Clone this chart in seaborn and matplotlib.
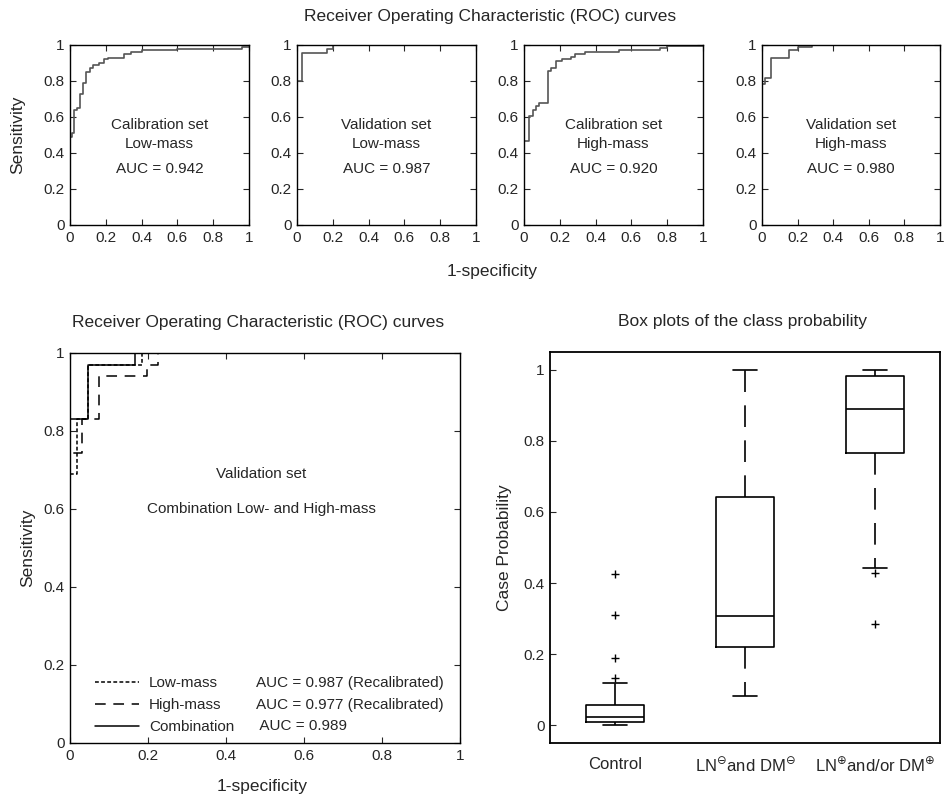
import matplotlib
matplotlib.use("Agg")
import matplotlib.pyplot as plt
from matplotlib.ticker import FuncFormatter
import seaborn as sns

# -------------------------------
# Data
# -------------------------------
# top row: ROC curves (1-specificity, sensitivity), step points
cal_low_fpr = [0, 0.01, 0.02, 0.04, 0.055, 0.07, 0.09, 0.11, 0.13, 0.16, 0.19, 0.21, 0.30, 0.34, 0.40, 0.60, 0.96, 1.0]
cal_low_tpr = [0.49, 0.51, 0.64, 0.65, 0.73, 0.79, 0.85, 0.87, 0.89, 0.90, 0.92, 0.93, 0.95, 0.96, 0.97, 0.98, 0.99, 0.99]

val_low_fpr = [0, 0.028, 0.17, 0.20, 1.0]
val_low_tpr = [0.80, 0.955, 0.98, 1.0, 1.0]

cal_high_fpr = [0, 0.026, 0.05, 0.065, 0.084, 0.135, 0.153, 0.178, 0.21, 0.265, 0.285, 0.34, 0.53, 0.76, 0.80, 1.0]
cal_high_tpr = [0.467, 0.607, 0.64, 0.66, 0.68, 0.856, 0.87, 0.91, 0.925, 0.935, 0.95, 0.96, 0.97, 0.985, 0.993, 0.993]

val_high_fpr = [0, 0.019, 0.05, 0.153, 0.20, 0.28, 1.0]
val_high_tpr = [0.785, 0.815, 0.928, 0.972, 0.99, 1.0, 1.0]

top_fpr = [cal_low_fpr, val_low_fpr, cal_high_fpr, val_high_fpr]
top_tpr = [cal_low_tpr, val_low_tpr, cal_high_tpr, val_high_tpr]
top_text = [("Calibration set", "Low-mass", "AUC = 0.942"),
            ("Validation set", "Low-mass", "AUC = 0.987"),
            ("Calibration set", "High-mass", "AUC = 0.920"),
            ("Validation set", "High-mass", "AUC = 0.980")]

# bottom left: validation set, recalibrated curves
comb_low_fpr = [0, 0, 0.017, 0.047, 0.185, 1.0]
comb_low_tpr = [0, 0.69, 0.83, 0.97, 1.0, 1.0]
comb_high_fpr = [0, 0, 0.032, 0.075, 0.197, 0.226, 1.0]
comb_high_tpr = [0, 0.744, 0.83, 0.94, 0.97, 1.0, 1.0]
comb_fpr = [0, 0, 0.047, 0.167, 1.0]
comb_tpr = [0, 0.83, 0.97, 1.0, 1.0]
curve_names = ["Low-mass", "High-mass", "Combination"]
curve_auc = ["AUC = 0.987 (Recalibrated)", "AUC = 0.977 (Recalibrated)", " AUC = 0.989"]

# bottom right: box plots of the class probability
box_groups = ["Control", r"LN$^{\ominus}$and DM$^{\ominus}$", r"LN$^{\oplus}$and/or DM$^{\oplus}$"]
box_q1 = [0.009, 0.219, 0.767]
box_med = [0.022, 0.308, 0.89]
box_q3 = [0.056, 0.643, 0.983]
whisk_lo = [0.0, 0.0815, 0.442]
whisk_hi = [0.119, 1.0, 1.0]
box_outliers = [[0.133, 0.189, 0.311, 0.425], [], [0.428, 0.285]]

# -------------------------------
# Style
# -------------------------------
sns.set_style("white")
plt.rcParams["font.family"] = ["Liberation Sans", "DejaVu Sans"]
plt.rcParams["mathtext.fontset"] = "dejavusans"

W, H = 945, 796
fig = plt.figure(figsize=(W / 100, H / 100), dpi=100)
fmt = FuncFormatter(lambda v, p: f"{v:g}")


def px_axes(x0, y0, x1, y1):
    return fig.add_axes([x0 / W, 1 - y1 / H, (x1 - x0) / W, (y1 - y0) / H])


def matlab_axes(ax, fs=11, all_sides=True):
    for s in ax.spines.values():
        s.set_color("black")
        s.set_linewidth(1.0)
    ax.tick_params(direction="in", length=4, width=0.8, labelsize=fs, pad=4,
                   top=all_sides, right=all_sides, bottom=True, left=True)
    ax.xaxis.set_major_formatter(fmt)
    ax.yaxis.set_major_formatter(fmt)


# -------------------------------
# Top row: four ROC panels
# -------------------------------
top_pos = [(70, 249), (297, 476), (524, 703), (762, 940)]
for i, (x0, x1) in enumerate(top_pos):
    ax = px_axes(x0, 45, x1, 225)
    sns.lineplot(x=top_fpr[i], y=top_tpr[i], ax=ax, color="#555555", lw=1.2,
                 drawstyle="steps-post", estimator=None, sort=False)
    ax.set_xlim(0, 1)
    ax.set_ylim(0, 1)
    ax.set_xticks([0, 0.2, 0.4, 0.6, 0.8, 1])
    ax.set_yticks([0, 0.2, 0.4, 0.6, 0.8, 1])
    matlab_axes(ax)
    l1, l2, l3 = top_text[i]
    ax.text(0.5, 0.555, l1, transform=ax.transAxes, ha="center", va="center", fontsize=11)
    ax.text(0.5, 0.45, l2, transform=ax.transAxes, ha="center", va="center", fontsize=11)
    ax.text(0.5, 0.31, l3, transform=ax.transAxes, ha="center", va="center", fontsize=11)

fig.text(490 / W, 1 - 17 / H, "Receiver Operating Characteristic (ROC) curves",
         ha="center", va="center", fontsize=12.5)
fig.text(18 / W, 1 - 135 / H, "Sensitivity", rotation=90, ha="center", va="center", fontsize=12.5)
fig.text(492 / W, 1 - 272 / H, "1-specificity", ha="center", va="center", fontsize=12.5)

# -------------------------------
# Bottom left: combined validation ROC
# -------------------------------
ax = px_axes(70, 353, 460, 743)
styles = [(0, (2.5, 1.5)), (0, (7, 5)), "-"]
for fpr, tpr, name, ls in zip([comb_low_fpr, comb_high_fpr, comb_fpr],
                              [comb_low_tpr, comb_high_tpr, comb_tpr],
                              curve_names, styles):
    sns.lineplot(x=fpr, y=tpr, ax=ax, color="black", lw=1.1, linestyle=ls,
                 drawstyle="steps-post", estimator=None, sort=False, label=name)
ax.set_xlim(0, 1)
ax.set_ylim(0, 1)
ax.set_xticks([0, 0.2, 0.4, 0.6, 0.8, 1])
ax.set_yticks([0, 0.2, 0.4, 0.6, 0.8, 1])
matlab_axes(ax)
ax.text(0.49, 0.69, "Validation set", transform=ax.transAxes, ha="center", va="center", fontsize=11)
ax.text(0.49, 0.60, "Combination Low- and High-mass", transform=ax.transAxes,
        ha="center", va="center", fontsize=11)
ax.legend(loc="lower left", bbox_to_anchor=(0.064, 0.022), frameon=False, fontsize=11,
          handlelength=2.9, handletextpad=0.65, labelspacing=0.53, borderpad=0, borderaxespad=0)
for yy, t in zip([0.154, 0.097, 0.044], curve_auc):
    ax.text(0.477, yy, t, transform=ax.transAxes, ha="left", va="center", fontsize=11)

fig.text(258 / W, 1 - 323 / H, "Receiver Operating Characteristic (ROC) curves",
         ha="center", va="center", fontsize=12.5)
fig.text(28 / W, 1 - 548 / H, "Sensitivity", rotation=90, ha="center", va="center", fontsize=12.5)
fig.text(262 / W, 1 - 787 / H, "1-specificity", ha="center", va="center", fontsize=12.5)

# -------------------------------
# Bottom right: box plots
# -------------------------------
ax = px_axes(550, 352, 940, 743)
stats = []
for i, g in enumerate(box_groups):
    stats.append(dict(label=g, q1=box_q1[i], med=box_med[i], q3=box_q3[i],
                      whislo=whisk_lo[i], whishi=whisk_hi[i], fliers=box_outliers[i]))
ax.bxp(stats, positions=[1, 2, 3], widths=0.45, capwidths=0.18, showfliers=True,
       boxprops=dict(color="black", lw=1.2),
       medianprops=dict(color="black", lw=1.2),
       whiskerprops=dict(color="black", lw=1.2, linestyle=(0, (13, 8))),
       capprops=dict(color="black", lw=1.2),
       flierprops=dict(marker="+", markeredgecolor="black", markersize=6, linestyle="none"))
ax.set_xlim(0.5, 3.5)
ax.set_ylim(-0.05, 1.05)
ax.set_yticks([0, 0.2, 0.4, 0.6, 0.8, 1])
matlab_axes(ax, all_sides=False)
ax.set_xticks([1, 2, 3])
ax.set_xticklabels(box_groups)
ax.tick_params(axis="x", length=0, labelsize=12, pad=10)
for s in ax.spines.values():
    s.set_linewidth(1.3)

fig.text(743 / W, 1 - 322 / H, "Box plots of the class probability",
         ha="center", va="center", fontsize=12.5)
fig.text(505 / W, 1 - 548 / H, "Case Probability", rotation=90, ha="center", va="center", fontsize=12.5)

fig.savefig("out.png", dpi=100)
